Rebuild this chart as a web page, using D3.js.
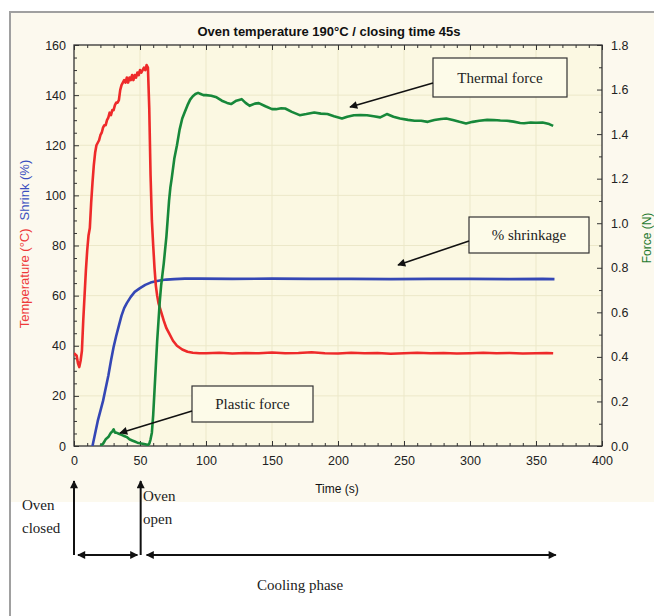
<!DOCTYPE html>
<html><head><meta charset="utf-8">
<script src="https://cdn.jsdelivr.net/npm/d3@7"></script>
<style>body{margin:0;background:#fff}svg{display:block}</style>
</head><body>
<svg id="c" width="654" height="616"></svg>
<script>
// ---- data ----
const tempTime = [0,1,2,3,4,5,6,7,8,9,10,11,12,13,14,15,16,17,18,19,20,21,22,23,24,25,26,27,28,29,30,31,32,33,34,35,36,37,38,39,40,41,42,43,44,45,46,47,48,49,50,51,52,53,54,55,56,57,58,59,60,61,62,63,64,66,68,70,72,75,78,82,86,90,95,100,110,120,130,140,150,160,170,180,190,200,210,220,230,240,250,260,270,280,290,300,310,320,330,340,350,358,363];
const tempVal  = [37,36.5,36,33,31.5,34,38,50,60,70,78,84,87,97,105,112,117,120,121,122,124,125,127,128,128,130,131,133,132,134,134,136,137,137,138,142,144,145,146,145,147,145,147,146,148,146,148,147,149,148,150,149,150,151,150,152,151,135,108,90,80,71,64,60,57,53.5,50,47,45,42,40,38.5,37.6,37.2,37,37,37.2,36.9,37.1,37,37.3,37,37.1,37.4,37,36.9,37.2,37,37.1,36.8,37,37.2,37,37.1,36.9,37,37.2,37,37.1,36.9,37,37.1,37];

const shrinkTime = [14,16,18,20,22,24,26,28,30,32,34,36,38,40,43,46,50,54,58,62,66,70,76,84,95,120,150,180,210,240,270,300,330,355,364];
const shrinkVal  = [0,5,10,14,18,23,28,34,39.5,44,48,52,55,57,59.5,61.5,63,64.3,65.2,65.7,66.1,66.4,66.6,66.8,66.8,66.7,66.8,66.7,66.7,66.6,66.7,66.7,66.6,66.7,66.6];

const forceTime = [20,22,24,26,27,28,29,30,31,32,34,36,38,40,42,44,46,48,50,52,54,56,57,58,59,60,61,62,63,64,65,66,67,68,69,70,71,72,73,74,76,78,80,82,84,86,88,90,92,94,96,98,100,104,108,112,116,119,123,127,130,133,137,140,145,150,153,157,160,165,171,176,182,187,192,197,203,207,212,217,222,227,232,237,242,247,253,258,263,268,273,278,282,287,292,297,302,307,313,318,323,328,333,338,341,346,350,355,360,363];
const forceVal  = [0,0.01,0.03,0.04,0.05,0.06,0.065,0.075,0.06,0.06,0.055,0.05,0.045,0.04,0.03,0.025,0.02,0.015,0.012,0.01,0.008,0.005,0.01,0.03,0.06,0.14,0.25,0.36,0.47,0.56,0.65,0.72,0.77,0.82,0.88,0.94,1.02,1.1,1.16,1.2,1.29,1.35,1.42,1.47,1.5,1.53,1.555,1.57,1.58,1.585,1.58,1.575,1.575,1.572,1.565,1.55,1.54,1.535,1.55,1.557,1.54,1.527,1.537,1.539,1.525,1.512,1.512,1.516,1.515,1.5,1.485,1.49,1.497,1.492,1.49,1.48,1.47,1.478,1.485,1.486,1.485,1.48,1.475,1.49,1.478,1.47,1.464,1.46,1.46,1.455,1.463,1.468,1.47,1.463,1.455,1.448,1.455,1.46,1.464,1.463,1.461,1.46,1.456,1.45,1.449,1.452,1.451,1.452,1.445,1.437];

const xTicks = [0,50,100,150,200,250,300,350,400];
const yLeftTicks = [0,20,40,60,80,100,120,140,160];
const yRightTicks = [0,0.2,0.4,0.6,0.8,1.0,1.2,1.4,1.6,1.8];

// ---- layout ----
const svg = d3.select('#c');
const L = 74, R = 602, T = 45, B = 446;
const x = d3.scaleLinear().domain([0,400]).range([L,R]);
const yL = d3.scaleLinear().domain([0,160]).range([B,T]);
const yR = d3.scaleLinear().domain([0,1.8]).range([B,T]);

// backgrounds
svg.append('rect').attr('x',0).attr('y',0).attr('width',654).attr('height',616).attr('fill','#ffffff');
svg.append('rect').attr('x',9).attr('y',11).attr('width',660).attr('height',491).attr('fill','#fcf9ee');
svg.append('path').attr('d','M10,620 V12 H660').attr('fill','none').attr('stroke','#a0a0a0').attr('stroke-width',2);
svg.append('rect').attr('x',L).attr('y',T).attr('width',R-L).attr('height',B-T).attr('fill','#fbf8e2');

// gridlines
const g = svg.append('g');
g.selectAll('.gx').data(xTicks.slice(1,-1)).enter().append('line')
 .attr('x1',d=>x(d)).attr('x2',d=>x(d)).attr('y1',T).attr('y2',B).attr('stroke','#ece8c9').attr('stroke-width',1);
g.selectAll('.gy').data(yLeftTicks.slice(1,-1)).enter().append('line')
 .attr('y1',d=>yL(d)).attr('y2',d=>yL(d)).attr('x1',L).attr('x2',R).attr('stroke','#ece8c9').attr('stroke-width',1);

// axes
const font = "'Liberation Sans', Arial, sans-serif";
function styleAxis(sel){
  sel.select('.domain').remove();
  sel.selectAll('.tick line').attr('stroke','#333');
  sel.selectAll('.tick text').attr('fill','#222').style('font-family',font).style('font-size','12.5px');
}
const minorX = d3.range(0,401,10).filter(v=>v%50!==0);
const minorL = d3.range(0,161,5).filter(v=>v%20!==0);
const minorR = d3.range(0,18,1).map(v=>v/10).filter((v,i)=>i%2===1);

// bottom
svg.append('g').attr('transform',`translate(0,${B})`)
  .call(d3.axisBottom(x).tickValues(xTicks).tickSize(-5).tickPadding(10).tickFormat(d3.format('d'))).call(styleAxis);
svg.append('g').attr('transform',`translate(0,${B})`)
  .call(d3.axisBottom(x).tickValues(minorX).tickSize(-3).tickFormat('')).call(styleAxis);
// top
svg.append('g').attr('transform',`translate(0,${T})`)
  .call(d3.axisTop(x).tickValues(xTicks).tickSize(-5).tickFormat('')).call(styleAxis);
svg.append('g').attr('transform',`translate(0,${T})`)
  .call(d3.axisTop(x).tickValues(minorX).tickSize(-3).tickFormat('')).call(styleAxis);
// left
svg.append('g').attr('transform',`translate(${L},0)`)
  .call(d3.axisLeft(yL).tickValues(yLeftTicks).tickSize(-5).tickPadding(8)).call(styleAxis);
svg.append('g').attr('transform',`translate(${L},0)`)
  .call(d3.axisLeft(yL).tickValues(minorL).tickSize(-3).tickFormat('')).call(styleAxis);
// right
svg.append('g').attr('transform',`translate(${R},0)`)
  .call(d3.axisRight(yR).tickValues(yRightTicks).tickSize(-5).tickPadding(9).tickFormat(d3.format('.1f'))).call(styleAxis);
svg.append('g').attr('transform',`translate(${R},0)`)
  .call(d3.axisRight(yR).tickValues(minorR).tickSize(-3).tickFormat('')).call(styleAxis);

// frame
svg.append('rect').attr('x',L).attr('y',T).attr('width',R-L).attr('height',B-T)
  .attr('fill','none').attr('stroke','#333').attr('stroke-width',1.3);

// series
svg.append('clipPath').attr('id','pc').append('rect').attr('x',L).attr('y',T-2).attr('width',R-L).attr('height',B-T+2);
function drawLine(tt, vv, ys, color){
  const data = tt.map((t,i)=>[t,vv[i]]);
  svg.append('path').datum(data).attr('clip-path','url(#pc)')
    .attr('d', d3.line().x(d=>x(d[0])).y(d=>ys(d[1])))
    .attr('fill','none').attr('stroke',color).attr('stroke-width',2.6).attr('stroke-linejoin','round');
}
drawLine(shrinkTime, shrinkVal, yL, '#3447b5');
drawLine(tempTime, tempVal, yL, '#ee2a2a');
drawLine(forceTime, forceVal, yR, '#17883a');

// titles
svg.append('text').attr('x',329).attr('y',36).attr('text-anchor','middle')
  .style('font-family',font).style('font-size','13px').style('font-weight','bold').attr('fill','#111')
  .text('Oven temperature 190°C / closing time 45s');
svg.append('text').attr('x',337).attr('y',493).attr('text-anchor','middle')
  .style('font-family',font).style('font-size','12px').attr('fill','#111').text('Time (s)');
const ylab = svg.append('text').attr('transform','translate(29,244) rotate(-90)').attr('text-anchor','middle')
  .style('font-family',font).style('font-size','13px');
ylab.append('tspan').attr('fill','#ee3a3a').text('Temperature (°C)');
ylab.append('tspan').attr('fill','#3a4fc0').attr('dx',8).text('Shrink (%)');
svg.append('text').attr('transform','translate(651,238) rotate(-90)').attr('text-anchor','middle')
  .style('font-family',font).style('font-size','12px').attr('fill','#1f7a2e').text('Force (N)');

// annotations
const defs = svg.append('defs');
defs.append('marker').attr('id','ah').attr('viewBox','0 0 10 10').attr('refX',9).attr('refY',5)
  .attr('markerWidth',10).attr('markerHeight',8).attr('markerUnits','userSpaceOnUse').attr('orient','auto-start-reverse')
  .append('path').attr('d','M0,0 L10,5 L0,10 z').attr('fill','#111');
const serif = "'Liberation Serif', 'Times New Roman', serif";
function callout(bx,by,bw,bh,label,ax,ay,tx,ty){
  svg.append('rect').attr('x',bx).attr('y',by).attr('width',bw).attr('height',bh)
    .attr('fill','#fdfbe9').attr('stroke','#333').attr('stroke-width',1.2);
  svg.append('text').attr('x',bx+bw/2).attr('y',by+bh/2+5).attr('text-anchor','middle')
    .style('font-family',serif).style('font-size','15px').attr('fill','#222').text(label);
  svg.append('line').attr('x1',ax).attr('y1',ay).attr('x2',tx).attr('y2',ty)
    .attr('stroke','#111').attr('stroke-width',1.6).attr('marker-end','url(#ah)');
}
callout(433,58,134,39,'Thermal force',433,83,350,107);
callout(469,217,120,36,'% shrinkage',469,241,398,265);
callout(192,386,121,36,'Plastic force',192,411,120,433);

// bottom phase arrows
const ya = 555;
function arrow(x1,y1,x2,y2,both){
  const l = svg.append('line').attr('x1',x1).attr('y1',y1).attr('x2',x2).attr('y2',y2)
    .attr('stroke','#111').attr('stroke-width',2).attr('marker-end','url(#ah)');
  if(both) l.attr('marker-start','url(#ah)');
}
arrow(x(0),ya,x(0),481,false);
arrow(x(50.5),ya,x(50.5),481,false);
arrow(x(3),ya,x(48),ya,true);
arrow(x(55),ya,x(365),ya,true);
function stext(tx,ty,s){
  svg.append('text').attr('x',tx).attr('y',ty).style('font-family',serif).style('font-size','15px').attr('fill','#222').text(s);
}
stext(22,510,'Oven'); stext(22,533,'closed');
stext(143,501,'Oven'); stext(143,524,'open');
svg.append('text').attr('x',300).attr('y',590).attr('text-anchor','middle').style('font-family',serif).style('font-size','15px').attr('fill','#222').text('Cooling phase');
</script>
</body></html>
